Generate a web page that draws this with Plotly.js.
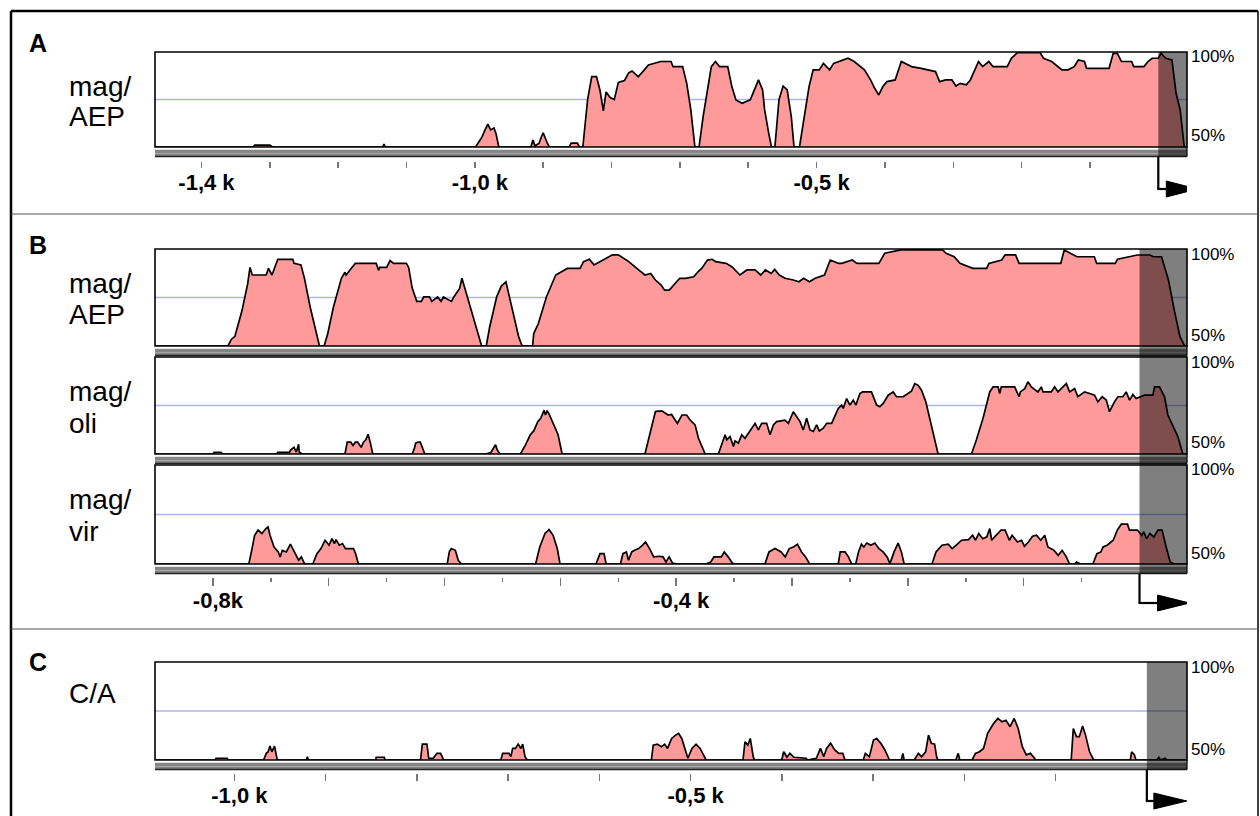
<!DOCTYPE html>
<html><head><meta charset="utf-8">
<script src="https://cdn.plot.ly/plotly-3.0.1.min.js"></script>
<style>html,body{margin:0;padding:0;background:#fff}#chart{width:1260px;height:816px}</style>
</head><body><div id="chart"></div>
<script>
// ---------------- DATA (position in bp relative to TSS, identity in %) ----------------
const trackNames = ["mag/AEP", "mag/AEP", "mag/oli", "mag/vir", "C/A"];

const posA = [-1468,-1325,-1322,-1300,-1296,-1135,-1133,-1131,-999,-990,-985,-981,-977,-972,-969,-965,-918,-915,-912,-906,-903,-900,-894,-891,-862,-859,-850,-847,-842,-835,-829,-822,-817,-812,-808,-802,-796,-790,-781,-775,-770,-761,-752,-746,-728,-713,-710,-696,-690,-684,-678,-672,-666,-660,-654,-648,-642,-630,-624,-618,-609,-597,-591,-585,-579,-576,-570,-566,-561,-555,-549,-543,-537,-533,-525,-520,-511,-505,-496,-490,-481,-475,-466,-454,-445,-436,-430,-421,-415,-409,-403,-397,-385,-376,-370,-361,-347,-335,-326,-320,-311,-302,-296,-290,-281,-275,-269,-263,-257,-248,-242,-221,-215,-206,-173,-168,-156,-147,-141,-132,-123,-117,-108,-105,-72,-66,-60,-54,-39,-36,-21,-15,-9,0,4,11,20,26,32,38,42];
const pctA = [50,50,51,51,50,50,51.5,50,50,55,59,62,59,60,57,50,50,53.7,50.5,52,55,57.5,52,50,50,52,52,50,50,75,87,87,80,69,79,76,75,84,85,89,90,87,90.6,93.2,95,95,92.3,92.3,83.5,69.5,50,50,66,80,92.3,95,92.3,92.3,81.8,74.8,73,74.8,80,85.3,80,69.5,57.2,50,50,74.8,82.1,80,66,50,50,60.7,81.8,90.6,90.6,94,90.6,94,95,96.7,95,92.3,90.6,85.3,80.9,77.4,81.8,84.4,85.3,95,94,92.3,91.4,90.6,89.7,84.4,85.3,85.3,82.1,83.5,82.7,85.3,90.6,95,92.3,95,92.3,92.3,96.7,99.7,99.7,96.7,95,92.3,90.6,90.6,92.3,95.8,95,91.4,91.4,99.3,99.3,95,95,92.3,92.3,95,96.7,96.7,99.3,96.7,95.8,78.3,69.5,50,50];

const posB1 = [-850,-787,-784,-781,-775,-770,-768,-766,-754,-752,-749,-744,-731,-730,-724,-721,-716,-710,-708,-704,-701,-696,-689,-686,-685,-680,-677,-659,-657,-656,-650,-647,-644,-633,-631,-628,-624,-620,-618,-613,-611,-606,-603,-601,-594,-592,-587,-585,-582,-578,-573,-568,-564,-561,-555,-551,-547,-545,-540,-536,-533,-524,-523,-519,-512,-504,-494,-483,-480,-475,-471,-462,-455,-450,-441,-434,-427,-422,-418,-413,-410,-406,-401,-397,-392,-385,-381,-378,-373,-369,-366,-357,-352,-348,-345,-339,-332,-327,-323,-318,-315,-311,-306,-299,-294,-290,-285,-280,-272,-267,-260,-257,-248,-244,-225,-220,-206,-170,-167,-160,-155,-144,-132,-130,-119,-116,-107,-104,-68,-65,-60,-54,-39,-37,-21,-19,-9,-2,9,12,19,25,30,35,39,41];
const pctB1 = [50,50,53.5,55,68,82,90.5,86.6,86.6,90,86.6,94.7,94.7,92.6,91.8,85,70,56,50,50,56,70,85,88,86.6,90.5,92.6,92.6,89,90.5,90.5,94,92.6,92.6,90.5,80,73,73,75.3,75.3,73,75.3,73,75.3,73,75.3,79.7,84.9,78.8,70.2,59.9,50,50,59.9,75.4,80.9,83.1,78,65,54.7,50,50,56.4,61.6,75.4,86.6,90,90,93.5,94.7,91.8,94.7,97,97,93.5,90,86.6,87.4,84,81.4,78.8,78.8,82.3,84.9,84.9,85.7,88.3,90,94.3,94.7,93.5,92.6,90.9,88.3,86.6,89.2,89.2,86.6,89.2,87.4,89.5,86.6,84.9,84,83.1,84.9,83.1,84.9,86.6,94.3,92.6,92.6,94.3,92.6,92.6,97.8,99.5,99.5,97.8,96,92.6,90,90,92.6,94.3,97,97,92.6,92.6,99.5,97.8,96,96,92.6,92.6,94.7,96,96.9,96.9,96,96,84,68.5,54.7,50,50];

const posB2 = [-850,-800,-799,-793,-792,-745,-744,-734,-733,-730,-728,-726,-725.5,-723,-686,-684,-681,-679,-677,-675,-672,-670,-668,-666,-664,-662,-628,-626,-625,-623,-621,-620,-618.5,-617,-565,-560,-556,-554.5,-552,-534.5,-530,-526,-523,-519.5,-517,-514,-513,-511.5,-510,-508,-505,-502,-500,-498.5,-427,-422,-418,-416,-412,-409,-407,-404,-399,-395,-391,-388,-386.5,-383.7,-380.8,-377.9,-375,-363.6,-360.7,-357.8,-356.4,-353.5,-350.6,-349.2,-346.3,-343.4,-340.6,-337.7,-334.8,-331.9,-329.1,-326.2,-321.9,-319,-316.1,-313.3,-306.1,-303.2,-298.9,-296,-293.1,-290.3,-287.4,-284.5,-281.6,-278.8,-276.5,-273,-270.1,-265.8,-263,-260.1,-257.2,-255.8,-252.9,-250,-247.2,-244.9,-241.4,-239.1,-231.4,-229.9,-227,-224.2,-221.3,-217,-212.7,-209.8,-204.1,-196.9,-194,-191.1,-188.2,-184.5,-181.1,-177.6,-173.9,-145.1,-140.8,-135.1,-129.3,-126.4,-122.1,-120.7,-119.3,-107.8,-105.7,-104,-102.9,-99.1,-96.3,-93.4,-87.7,-84.8,-83.3,-76.2,-73.3,-70.4,-66.1,-63.2,-60.3,-56,-53.2,-47.4,-43.1,-38.8,-36,-32.2,-28.7,-25.9,-21.6,-18.7,-14.4,-11.5,-8.6,-5.7,-2.9,1.4,4.3,11.5,13,17.3,21.6,24.5,28.8,33.1,37.4,41];
const pctB2 = [50,50,50.8,50.8,50,50,50.8,50.8,52,53.4,51,55,51,50,50,56.1,56.1,54.4,56.1,56.1,53.4,56.1,57.3,60.2,55.6,50,50,53,55.6,56.1,56.1,54.4,53,50,50,50.8,54.8,52,50,50,54.8,59.9,61.9,66.7,68.4,72.6,70.1,72.1,70.9,68.4,64.1,59.9,54.7,50,50,61.6,71.8,72.1,72.1,70.9,70.1,70.4,65.8,70.1,70.1,67.5,66.7,65,58.1,53.9,50,50,55.6,59.9,57.3,59,53.9,56.8,55.6,59.9,58.1,60.7,63.3,65.8,62.4,65.8,65.8,59.9,65,66.7,67.5,65.8,71.8,69.2,66.7,62.4,68.4,62.4,61.6,65,61.9,63.3,65.8,65.8,70.1,73.5,75.2,73.5,78.6,75.2,77.8,75.2,81.2,82,82,79.5,75.2,74.4,76.1,80.3,82,79.5,79.5,82.4,86.3,85.4,82.9,76.9,68.4,59,50,50,57.3,68.4,82,84.6,84.6,81.2,84.6,84.6,82,79.5,82,83.7,87.2,84.6,82,84.6,82,82,84.6,82,84.6,86.3,82,83.7,79.5,82,81.2,80.3,76.9,79.5,77.8,71.8,76.9,79.5,79.5,82,77.8,80.7,78.6,79.5,80.3,80.3,84.6,84.6,79.5,70.1,64.1,59,50,50];

const posB3 = [-850,-769,-766.5,-764,-761,-757.7,-754.2,-752.4,-750.7,-747.2,-743.6,-741.9,-740.1,-736.6,-733.1,-730.3,-727.8,-726,-723.6,-720.8,-713.8,-710.2,-706.7,-703.2,-699.7,-697.2,-695.1,-693.7,-690.9,-688.1,-685.6,-678.6,-676.8,-674.4,-597.7,-595.9,-594.2,-590.7,-588.2,-585.4,-521.4,-517.8,-513.3,-509.8,-506.3,-502.7,-500.3,-469.3,-465.8,-462.3,-460.5,-448.2,-446,-443,-441.2,-438.4,-436,-432.5,-429,-426.5,-423,-419.5,-414.9,-411.4,-408.9,-406.1,-403.3,-399.1,-374.4,-370.2,-367.4,-361,-358.6,-355.1,-351.6,-349.8,-323.4,-319.9,-314.7,-309.4,-305.9,-302.4,-298.8,-295.3,-291.8,-288.3,-284.8,-260.1,-258.4,-254.2,-251.3,-248.5,-245,-242.6,-240.1,-238,-235.5,-232,-228.5,-225,-221.4,-217.9,-215.5,-211.9,-208.4,-205.6,-203.2,-179.2,-175.7,-170.5,-165.2,-161.7,-158.2,-153.6,-147.6,-144.1,-141.6,-138.8,-135.3,-131.8,-129.3,-127.6,-124.7,-119.5,-116,-112.4,-110,-105.4,-101.9,-99.4,-95.9,-92.4,-88.9,-85.3,-81.8,-79.1,-73.8,-70.2,-66.8,-63.2,-60.4,-56.2,-54.4,-50.9,-40.3,-36.8,-33.3,-31.5,-28,-22.7,-19.2,-15.7,-10.4,-8.7,-1.7,1.9,3.6,6.1,8.9,12.4,15.9,19.5,23,26.5,30,41];
const pctB3 = [50,50,56.9,64.5,67.1,65.4,67.9,68.7,64.5,58.6,56.1,53.6,56.9,56.1,60,56.9,54.4,51.9,53.6,50,50,55.2,57.8,62,59.5,62.8,60.3,62.3,59.5,60.3,57.8,57.8,55.2,50,50,56.1,57.8,56.9,51.9,50,50,58.6,65.4,67.4,64.5,57.8,50,50,55.2,55.2,50,50,55.2,56.1,51.9,56.1,56.9,57.8,59.5,61.1,57.8,53.6,53.9,53.6,51,53.6,50.5,50,50,51,53.6,53.6,56.1,53.6,50.5,50,50,56.1,57.8,56.1,53.6,57.8,58.6,60,56.1,53.6,50,50,56.1,56.1,53.6,50,50,56.1,60,58.6,60.6,59.5,60.6,57.8,56.1,53.6,50.2,56.1,60.6,56.1,50,50,56.1,59.5,60,57.8,59.5,62,62.3,64.5,62,65.4,62.8,63.7,67.9,62,64,67.1,67.1,62,64.5,61.1,62,59,61.1,64,64.5,62,64.5,58.6,56.9,54.4,56.9,53.6,50,50,51,50,50,55.2,56.1,58.6,59.5,62,67.1,70.1,70.1,67.1,67.1,64.5,66.2,62.8,65.4,63.7,67.1,67.1,58.6,51,50,50];

const posC = [-1087,-1021,-1020,-1008,-1007,-968,-965,-963,-961,-959,-956,-954,-953,-921,-920,-919,-845,-844.6,-835.7,-835,-796,-794,-789,-787,-782,-778,-774,-771,-770,-708,-706,-699,-697,-695,-692,-689,-686,-684,-681.5,-679,-543,-541,-536.5,-532,-528.4,-525.3,-520.8,-516.4,-513.2,-509.7,-506.1,-503,-498.5,-494,-489.6,-485.1,-483,-442.6,-440.4,-437.3,-434.6,-431.4,-430,-400.2,-398,-394.4,-391.2,-386.8,-373.4,-372,-362.2,-357.7,-354.1,-351,-346.6,-342.1,-337.6,-333.2,-330.9,-310.8,-308.5,-304.1,-299.6,-296.1,-291.6,-287.1,-282.7,-282,-269.2,-267.4,-266,-254.9,-250.4,-246.9,-242.4,-239.3,-236.2,-232.6,-230.4,-229,-209.4,-206.7,-205,-191.5,-187.9,-183.4,-179,-174.5,-167.8,-163.3,-158.8,-154.4,-149.9,-145.4,-141,-136.5,-132.1,-127.6,-123.1,-122,-82.9,-80.6,-77.1,-74,-70.4,-67.2,-62.8,-58.3,-18.1,-16.7,-13.6,-12,11,13.2,15,20,22,44];
const pctC = [50,50,50.9,50.9,50,50,53.4,54.2,57.1,54.2,57.1,53.4,50,50,51.7,50,50,51.4,51.4,50,50,58.1,58.1,50.9,50.9,53.4,53.4,50.3,50,50,53.4,53.4,51.7,55.9,55.9,58.1,55.9,58.1,51.7,50,50,57.6,58.1,56.8,58.1,55.9,61,62.7,63.6,61,55.9,50.9,55.9,58.1,55.9,51.7,50,50,59.3,57.6,61,51.7,50,50,54.2,51.4,53.4,51.4,50.9,50,50.9,55.9,51.7,55.9,58.5,55.1,53.4,53.4,50,50,53.4,51.7,60.2,61,58.5,55.1,50.9,50,50,53.4,50,50,53.4,51.7,54.2,62.7,58.5,58.1,51.7,50,50,53.4,50,50,53.4,54.2,55.9,63.6,68.7,71.2,69.5,70.3,67,71.2,66.1,56.8,52.6,53.4,50.9,50,50,66.1,61.9,61.9,67.3,62.7,54.2,50,50,54.2,52.6,50,50,51.4,50,50.9,50,50];

// axis ranges (bp) and tick labels
const rangeA = [-1468, 42], rangeB = [-850, 41], rangeC = [-1087, 44];
const ticksA = [-1400,-1300,-1200,-1100,-1000,-900,-800,-700,-600,-500,-400,-300,-200,-100];
const labelsA = ["-1,4 k","","","","-1,0 k","","","","","-0,5 k","","","",""];
const ticksB = [-800,-700,-600,-500,-400,-300,-200,-100];
const labelsB = ["-0,8k","","","","-0,4 k","","",""];
const minorTicksB = [-750,-650,-550,-450,-350,-250,-150,-50];
const ticksC = [-1000,-900,-800,-700,-600,-500,-400,-300,-200,-100];
const labelsC = ["-1,0 k","","","","","-0,5 k","","","",""];
const panelLetters = ["A","B","C"];
const yRange = [50, 100], refLine = 75;

// ---------------- LAYOUT HELPERS ----------------
const W = 1260, H = 816;
const fx = p => p / W;
const fy = p => 1 - p / H;
const FONT = "Liberation Sans, Arial, Helvetica, sans-serif";
const L = 155, R = 1187;

const tracks = [
  {x: posA,  y: pctA,  xa: "x",  ya: "y",  top: 52,  base: 147, range: rangeA},
  {x: posB1, y: pctB1, xa: "x2", ya: "y2", top: 249, base: 346, range: rangeB},
  {x: posB2, y: pctB2, xa: "x2", ya: "y3", top: 357, base: 454, range: rangeB},
  {x: posB3, y: pctB3, xa: "x2", ya: "y4", top: 465, base: 564, range: rangeB},
  {x: posC,  y: pctC,  xa: "x3", ya: "y5", top: 662, base: 760, range: rangeC}
];

const data = [];
tracks.forEach(t => {
  // 75 % reference line, drawn first so the conservation fill hides it
  data.push({type:"scatter", mode:"lines", x: t.range, y: [refLine, refLine], xaxis: t.xa, yaxis: t.ya,
    line:{color:"#aeb4f0", width:1.3}, hoverinfo:"skip", showlegend:false});
  data.push({type:"scatter", mode:"lines", x: t.x, y: t.y, xaxis: t.xa, yaxis: t.ya,
    fill:"tozeroy", fillcolor:"#ff9a9a",
    line:{color:"#000", width:1.7}, hoverinfo:"skip", showlegend:false});
});

const shapes = [];
const annotations = [];

// outer frame and separators
shapes.push({type:"line", xref:"paper", yref:"paper", x0:fx(11), x1:fx(11), y0:fy(11), y1:fy(816), line:{color:"#000", width:2.5}});
shapes.push({type:"line", xref:"paper", yref:"paper", x0:fx(11), x1:fx(1258), y0:fy(11), y1:fy(11), line:{color:"#000", width:2.5}});
shapes.push({type:"line", xref:"paper", yref:"paper", x0:fx(1258), x1:fx(1258), y0:fy(11), y1:fy(816), line:{color:"#000", width:1.5}});
[214, 629].forEach(y => shapes.push({type:"line", xref:"paper", yref:"paper", x0:fx(11), x1:fx(1258), y0:fy(y), y1:fy(y), line:{color:"#555", width:1.2}}));

// frames and bars under each track
tracks.forEach(t => {
  shapes.push({type:"rect", xref:"paper", yref:"paper", x0:fx(L), x1:fx(R), y0:fy(t.base+2), y1:fy(t.base+9), fillcolor:"#858585", line:{width:0}});
  shapes.push({type:"line", xref:"paper", yref:"paper", x0:fx(L), x1:fx(R), y0:fy(t.base+2.5), y1:fy(t.base+2.5), line:{color:"#e2e2e2", width:1.2}});
  shapes.push({type:"line", xref:"paper", yref:"paper", x0:fx(L), x1:fx(R), y0:fy(t.base+6.5), y1:fy(t.base+6.5), line:{color:"#a5a5a5", width:1}});
  shapes.push({type:"line", xref:"paper", yref:"paper", x0:fx(L), x1:fx(R), y0:fy(t.base+9.5), y1:fy(t.base+9.5), line:{color:"#222", width:1.6}});
  shapes.push({type:"line", xref:"paper", yref:"paper", x0:fx(R), x1:fx(R), y0:fy(t.base), y1:fy(t.base+9.5), line:{color:"#222", width:1.4}});
  shapes.push({type:"rect", xref:"paper", yref:"paper", x0:fx(L), x1:fx(R), y0:fy(t.base), y1:fy(t.top), line:{color:"#000", width:1.6}, fillcolor:"rgba(0,0,0,0)"});
});

// gray promoter overlay (from TSS = 0 to the right end) and TSS arrows
const panels = [
  {xa:"x",  top:52,  bottom:157, xmax:rangeA[1], arrowY:189, hl:8,  tip:39},
  {xa:"x2", top:249, bottom:574, xmax:rangeB[1], arrowY:603, hl:18, tip:50},
  {xa:"x3", top:662, bottom:770, xmax:rangeC[1], arrowY:801, hl:7,  tip:40}
];
panels.forEach(p => {
  shapes.push({type:"rect", xref:p.xa, yref:"paper", x0:0, x1:p.xmax, y0:fy(p.bottom), y1:fy(p.top), fillcolor:"rgba(0,0,0,0.5)", line:{width:0}});
  shapes.push({type:"line", xref:p.xa, yref:"paper", x0:0, x1:0, y0:fy(p.bottom), y1:fy(p.arrowY), line:{color:"#000", width:2.2}});
  shapes.push({type:"path", xref:p.xa, yref:"paper", xsizemode:"pixel", xanchor:0,
    path:`M-1,${fy(p.arrowY)} L${p.hl},${fy(p.arrowY)}`, line:{color:"#000", width:2.2}});
  shapes.push({type:"path", xref:p.xa, yref:"paper", xsizemode:"pixel", xanchor:0,
    path:`M${p.hl},${fy(p.arrowY-8)} L${p.hl},${fy(p.arrowY+8)} L${p.tip},${fy(p.arrowY)} Z`, fillcolor:"#000", line:{color:"#000", width:1}});
});

// text labels
const ann = (text, x, y, size, opts={}) => annotations.push(Object.assign({
  text, x:fx(x), y:fy(y), xref:"paper", yref:"paper", showarrow:false,
  xanchor:"left", yanchor:"middle", font:{family:FONT, size, color:"#000"}
}, opts));
const letterFont = {family:FONT, size:25, color:"#000", weight:"bold"};
ann(panelLetters[0], 27, 43, 25, {font:letterFont});
ann(panelLetters[1], 27, 245, 25, {font:letterFont});
ann(panelLetters[2], 27, 662, 25, {font:letterFont});
const splitName = n => [n.split("/")[0] + "/", n.split("/")[1]];
const labelPos = [[87,117],[283,315],[391,423],[499,531],[693]];
tracks.forEach((t, i) => {
  const parts = i === 4 ? [trackNames[i]] : splitName(trackNames[i]);
  parts.forEach((s, j) => ann(s, 67, labelPos[i][j], 28));
  ann("100%", 1189, t.top + 5, 17);
  ann("50%", 1189, t.base - 11, 17);
});

// axes
const tickAxis = (range, vals, text, posPx, len) => ({
  domain:[fx(L), fx(R)], range, anchor:"free", position:fy(posPx), side:"bottom",
  showline:false, showgrid:false, zeroline:false, fixedrange:true,
  ticks:"outside", ticklen:len, tickwidth:1.5, tickcolor:"#777",
  tickmode:"array", tickvals:vals, ticktext:text, ticklabelshift:5, ticklabelstandoff:-4,
  tickfont:{family:FONT, size:22, color:"#000", weight:"bold"}
});
const yAx = (t, anchor) => ({
  domain:[fy(t.base), fy(t.top)], range:yRange, anchor, fixedrange:true,
  showticklabels:false, ticks:"", showgrid:false, zeroline:false, showline:false
});

const xB = tickAxis(rangeB, ticksB, labelsB, 577, 8);
xB.minor = {tickmode:"array", tickvals:minorTicksB, ticks:"outside", ticklen:4, tickwidth:1.5, tickcolor:"#777", showgrid:false};

const layout = {
  width:W, height:H, margin:{l:0, r:0, t:0, b:0},
  paper_bgcolor:"#fff", plot_bgcolor:"rgba(0,0,0,0)",
  showlegend:false,
  xaxis: tickAxis(rangeA, ticksA, labelsA, 161, 6),
  xaxis2: xB,
  xaxis3: tickAxis(rangeC, ticksC, labelsC, 773, 7),
  yaxis: yAx(tracks[0], "x"),
  yaxis2: yAx(tracks[1], "x2"),
  yaxis3: yAx(tracks[2], "x2"),
  yaxis4: yAx(tracks[3], "x2"),
  yaxis5: yAx(tracks[4], "x3"),
  shapes, annotations
};

Plotly.newPlot("chart", data, layout, {displayModeBar:false, staticPlot:true});
</script>
</body></html>
